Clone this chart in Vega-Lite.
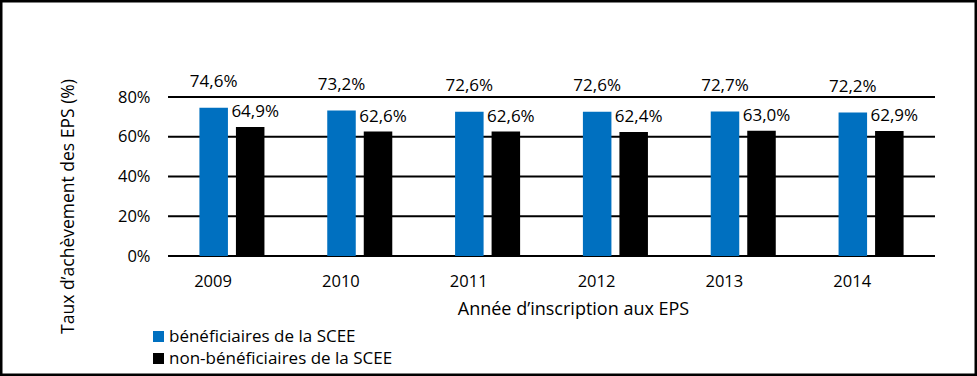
{
  "$schema": "https://vega.github.io/schema/vega-lite/v6.json",
  "width": 977,
  "height": 376,
  "autosize": "none",
  "padding": 0,
  "background": "white",
  "config": {
    "font": "Open Sans",
    "view": {"stroke": "black", "strokeWidth": 5},
    "locale": {
      "number": {"decimal": ",", "thousands": " ", "grouping": [3], "currency": ["", " $"]}
    },
    "axis": {"labelColor": "black", "titleColor": "black", "titleFontWeight": "normal"}
  },
  "data": {
    "values": [
      {"annee": "2009", "serie": "bénéficiaires de la SCEE", "valeur": 0.746},
      {"annee": "2009", "serie": "non-bénéficiaires de la SCEE", "valeur": 0.649},
      {"annee": "2010", "serie": "bénéficiaires de la SCEE", "valeur": 0.732},
      {"annee": "2010", "serie": "non-bénéficiaires de la SCEE", "valeur": 0.626},
      {"annee": "2011", "serie": "bénéficiaires de la SCEE", "valeur": 0.726},
      {"annee": "2011", "serie": "non-bénéficiaires de la SCEE", "valeur": 0.626},
      {"annee": "2012", "serie": "bénéficiaires de la SCEE", "valeur": 0.726},
      {"annee": "2012", "serie": "non-bénéficiaires de la SCEE", "valeur": 0.624},
      {"annee": "2013", "serie": "bénéficiaires de la SCEE", "valeur": 0.727},
      {"annee": "2013", "serie": "non-bénéficiaires de la SCEE", "valeur": 0.630},
      {"annee": "2014", "serie": "bénéficiaires de la SCEE", "valeur": 0.722},
      {"annee": "2014", "serie": "non-bénéficiaires de la SCEE", "valeur": 0.629}
    ]
  },
  "layer": [
    {
      "data": {"values": [{"g": 0}, {"g": 0.2}, {"g": 0.4}, {"g": 0.6}, {"g": 0.8}]},
      "mark": {"type": "rule", "color": "black", "strokeWidth": 2},
      "encoding": {
        "x": {"datum": "2009", "type": "nominal", "bandPosition": 0},
        "x2": {"datum": "2014", "bandPosition": 1},
        "y": {"field": "g", "type": "quantitative"}
      }
    },
    {
      "mark": {"type": "bar"},
      "encoding": {
        "x": {
          "field": "annee",
          "type": "nominal",
          "scale": {"paddingInner": 0, "paddingOuter": 0.8215, "align": 0.8},
          "axis": {
            "orient": "bottom",
            "offset": -120,
            "ticks": false,
            "domain": false,
            "grid": false,
            "labelAngle": 0,
            "labelPadding": 25,
            "labelFontSize": 16.5,
            "title": "Année d’inscription aux EPS",
            "titleFontSize": 18,
            "titleX": 573,
            "titleY": 58,
            "titleBaseline": "alphabetic",
            "titleAlign": "center"
          }
        },
        "xOffset": {
          "field": "serie",
          "type": "nominal",
          "scale": {"paddingInner": 0.219, "paddingOuter": 0.86},
          "sort": ["bénéficiaires de la SCEE", "non-bénéficiaires de la SCEE"]
        },
        "y": {
          "field": "valeur",
          "type": "quantitative",
          "scale": {"domain": [-0.60377, 1.28805], "nice": false, "zero": false},
          "axis": {
            "orient": "left",
            "offset": -168,
            "values": [0, 0.2, 0.4, 0.6, 0.8],
            "format": ".0%",
            "ticks": false,
            "domain": false,
            "grid": false,
            "labelPadding": 18,
            "labelFontSize": 16.5,
            "title": "Taux d’achèvement des EPS (%)",
            "titleFontSize": 17.5,
            "titleAngle": -90,
            "titleX": -100,
            "titleY": 206,
            "titleAlign": "center",
            "titleBaseline": "middle"
          }
        },
        "y2": {"datum": 0},
        "color": {
          "field": "serie",
          "type": "nominal",
          "scale": {
            "domain": ["bénéficiaires de la SCEE", "non-bénéficiaires de la SCEE"],
            "range": ["#0070C0", "#000000"]
          },
          "legend": {
            "orient": "none",
            "legendX": 150,
            "legendY": 328,
            "title": null,
            "padding": 0,
            "symbolType": "square",
            "symbolSize": 121,
            "symbolStrokeWidth": 0,
            "symbolOpacity": 1,
            "labelFontSize": 17,
            "labelColor": "black",
            "labelOffset": 2,
            "rowPadding": 4,
            "labelLimit": 400
          }
        }
      }
    },
    {
      "transform": [{"filter": "datum.serie === 'bénéficiaires de la SCEE'"}],
      "mark": {"type": "text", "fontSize": 17, "color": "black", "baseline": "alphabetic", "dy": -21},
      "encoding": {
        "x": {"field": "annee", "type": "nominal"},
        "xOffset": {"field": "serie", "type": "nominal"},
        "y": {"field": "valeur", "type": "quantitative"},
        "text": {"field": "valeur", "type": "quantitative", "format": ".1%"}
      }
    },
    {
      "transform": [{"filter": "datum.serie === 'non-bénéficiaires de la SCEE'"}],
      "mark": {"type": "text", "fontSize": 17, "color": "black", "baseline": "alphabetic", "dy": -10, "dx": 5},
      "encoding": {
        "x": {"field": "annee", "type": "nominal"},
        "xOffset": {"field": "serie", "type": "nominal"},
        "y": {"field": "valeur", "type": "quantitative"},
        "text": {"field": "valeur", "type": "quantitative", "format": ".1%"}
      }
    }
  ]
}
